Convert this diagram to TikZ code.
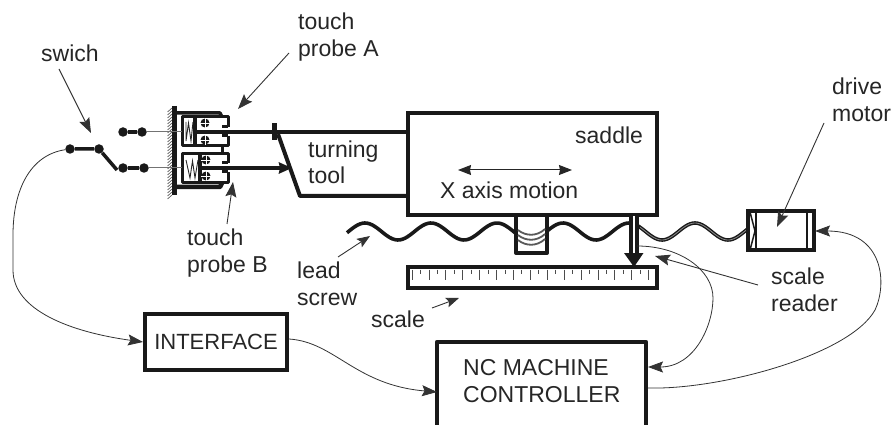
\documentclass[tikz,border=0pt]{standalone}
\usepackage{fontspec}
\setmainfont{Liberation Sans}
\usetikzlibrary{arrows.meta}
\tikzset{
  textlabel/.style={inner sep=0pt,anchor=base west,align=left,text=black!85,font=\fontsize{23}{27}\selectfont},
  thickbox/.style={draw=black!90,line width=4pt,inner sep=0pt},
  thickline/.style={draw=black!90,line width=4pt,line join=round},
  thinwire/.style={draw=black!80,line width=0.8pt},
  callout/.style={draw=black!80,line width=0.9pt,-{Stealth[length=15pt,width=11pt,inset=2.5pt]}},
  terminal/.style={circle,fill=black!90,minimum size=9.5pt,inner sep=0pt},
  ball/.style={circle,fill=black!90,minimum size=9pt,inner sep=0pt},
}
\begin{document}
\begin{tikzpicture}[x=1pt,y=1pt]
    \useasboundingbox (0,0) rectangle (892,-425);
    % lead screw
    \draw [black!90,line width=3.6pt] plot [domain=347:748,samples=160] (\x,{-231.5+8.5*cos(5.4545*(\x-365))});
    \draw [black!45,line width=0.8pt] plot [domain=640:748,samples=60] (\x,{-231.5+8.5*cos(5.4545*(\x-365))});
    % saddle, nut, scale
    \node [thickbox,minimum width=249pt,minimum height=102pt] (saddle) at (532.5,-164) {};
    \fill [white] (516,-217) rectangle (547,-253);
    \draw [thickline] (516,-215) -- (516,-253) -- (547,-253) -- (547,-215);
    \foreach \d in {0,5,10} {
        \draw [black!65,line width=1.8pt] (518,-230-\d) .. controls (526,-236.5-\d) and (537,-236.5-\d) .. (545,-229-\d);
    }
    \node [thickbox,minimum width=249pt,minimum height=21pt] (scale) at (532.5,-277.5) {};
    \foreach \i in {0,...,28} {
        \pgfmathsetmacro{\ticklen}{ifthenelse(mod(\i,2)==0,10,4)}
        \draw [black!70,line width=0.8pt] ({412+\i*8.45},-269.5) -- ++(0,-\ticklen);
    }
    % scale reader
    \fill [white] (632,-216) rectangle (637,-256);
    \draw [black!90,line width=3.5pt] (631,-216) -- (631,-256);
    \draw [black!90,line width=3.5pt] (637,-216) -- (637,-256);
    \fill [black!90] (624,-253) -- (643.5,-253) -- (634,-267) -- cycle;
    % motor
    \node [thickbox,minimum width=66pt,minimum height=39pt] (motor) at (781,-230.5) {};
    \draw [black!90,line width=2pt] (755.5,-212) -- (755.5,-250);
    \draw [black!90,line width=1.5pt] (750,-212) -- (755,-231) -- (750,-250);
    \draw [black!90,line width=2.5pt] (807,-212) -- (807,-250);
    % wall
    \draw [black!90,line width=4.5pt] (174.5,-106) -- (174.5,-195);
    \foreach \y in {108,111,...,195} {
        \draw [black!70,line width=0.6pt] (172,-\y) -- (167.5,-\y-4);
    }
    \draw [thickline,line width=3.5pt] (174,-113) -- (220,-113) -- (222,-117);
    \draw [thickline,line width=4.5pt] (174,-187) -- (220,-187) -- (222,-183);
    % probe A
    \draw [thickline,line width=3pt] (228,-127) -- (228,-117) -- (182,-117) -- (182,-146) -- (228,-146) -- (228,-136);
    \draw [thickline,line width=3pt] (222,-127) -- (228,-127);
    \draw [thickline,line width=3pt] (222,-136) -- (228,-136);
    \draw [thickline] (195,-117) -- (195,-146);
    \draw [thickline,line width=3pt] (222,-146) -- (222,-154);
    \draw [black!85,line width=0.9pt] (186,-122) -- (186,-141) -- (188.5,-123) -- (191,-141) -- (193,-122);
    \node [ball] (ballA1) at (205,-123) {};
    \node [ball] (ballA2) at (205,-140) {};
    % probe B
    \draw [thickline,line width=3pt] (228,-163) -- (228,-154) -- (182,-154) -- (182,-183) -- (228,-183) -- (228,-172);
    \draw [thickline,line width=3pt] (222,-163) -- (228,-163);
    \draw [thickline,line width=3pt] (222,-172) -- (228,-172);
    \draw [thickline] (200,-154) -- (200,-183);
    \draw [black!85,line width=0.9pt] (186,-160) -- (190,-178) -- (192.5,-161) -- (195,-178) -- (198,-160);
    \node [ball] (ballB1) at (206,-160) {};
    \node [ball] (ballB2) at (206,-176) {};
    \foreach \n in {ballA1,ballA2,ballB1,ballB2} {
        \draw [white,line width=0.5pt] (\n.west) -- (\n.east);
        \draw [white,line width=0.5pt] (\n.north) -- (\n.south);
    }
    % rods and tool
    \draw [thickline] (195,-132) -- (408,-132);
    \fill [black!90] (271.5,-123) rectangle (276.5,-140);
    \draw [thickline] (278,-134) -- (300,-196) -- (408,-196);
    \draw [thickline,-{Stealth[length=13pt,width=11pt,inset=1pt]}] (200,-168) -- (292,-168);
    % switch
    \node [terminal] (swA) at (70,-149) {};
    \node [terminal] (swB) at (99,-149) {};
    \node [terminal] (upA) at (123,-132) {};
    \node [terminal] (upB) at (142,-132) {};
    \node [terminal] (loA) at (123,-168) {};
    \node [terminal] (loB) at (144,-168) {};
    \coordinate (blade) at (117,-170);
    \draw [thickline,line width=3.5pt] (swA) -- (swB) -- (blade);
    \draw [thickline,line width=3.5pt] (upA) -- (upB);
    \draw [thickline,line width=3.5pt] (loA) -- (loB);
    \draw [black!55,line width=1pt] (upB) -- (182,-132);
    \draw [black!55,line width=1pt] (loB) -- (182,-168);
    % boxes
    \node [thickbox,minimum width=142pt,minimum height=56pt,font=\fontsize{22}{27}\selectfont,text=black!85] (interface) at (216,-342) {INTERFACE};
    \node [inner sep=0pt,minimum width=209pt,minimum height=83pt] (controller) at (541.5,-383.5) {};
    \draw [thickline] (controller.south west) -- (controller.north west) -- (controller.north east) -- (controller.south east);
    \node [textlabel] (controllertext) at (463,-402) {NC MACHINE\\CONTROLLER};
    % wires
    \coordinate (ctrlin) at (437,-392);
    \coordinate (ctrlread) at (648,-367);
    \coordinate (ctrlout) at (648,-388);
    \coordinate (readerout) at (637,-246);
    \coordinate (motorin) at (815,-231);
    \draw [thinwire,-{Stealth[length=15pt,width=11pt,inset=2.5pt]}] (swA) .. controls (30,-155) and (13,-190) .. (13,-235) -- (13,-270) .. controls (13,-310) and (70,-332) .. (interface.west);
    \draw [thinwire,-{Stealth[length=15pt,width=11pt,inset=2.5pt]}] (interface.east) ++(0,3) .. controls (335,-342) and (355,-385) .. (ctrlin);
    \draw [thinwire,-{Stealth[length=15pt,width=11pt,inset=2.5pt]}] (readerout) .. controls (680,-246) and (713,-270) .. (713,-298) .. controls (713,-325) and (695,-367) .. (ctrlread);
    \draw [thinwire,-{Stealth[length=15pt,width=11pt,inset=2.5pt]}] (ctrlout) .. controls (720,-390) and (850,-355) .. (875,-310) .. controls (887,-285) and (885,-231) .. (motorin);
    % callouts
    \coordinate (swichfrom) at (59,-69);
    \coordinate (swichto) at (91,-133);
    \coordinate (probeAfrom) at (289,-53);
    \coordinate (probeAto) at (238,-109);
    \coordinate (probeBfrom) at (227,-224);
    \coordinate (probeBto) at (233,-182);
    \coordinate (screwfrom) at (338,-257);
    \coordinate (screwto) at (370,-236);
    \coordinate (scalefrom) at (432,-308);
    \coordinate (scaleto) at (459,-298);
    \coordinate (readerfrom) at (758,-285);
    \coordinate (readerto) at (655,-256);
    \coordinate (drivefrom) at (824,-123);
    \coordinate (driveto) at (777,-227);
    \draw [callout] (swichfrom) -- (swichto);
    \draw [callout] (probeAfrom) -- (probeAto);
    \draw [callout] (probeBfrom) -- (probeBto);
    \draw [callout,-{Stealth[length=13pt,width=10pt,inset=2.5pt]}] (screwfrom) -- (screwto);
    \draw [callout,-{Stealth[length=13pt,width=10pt,inset=2.5pt]}] (scalefrom) -- (scaleto);
    \draw [callout] (readerfrom) -- (readerto);
    \draw [callout] (drivefrom) -- (driveto);
    \coordinate (motionL) at (458,-170);
    \coordinate (motionR) at (572,-170);
    \draw [draw=black!85,line width=1pt,{Stealth[length=13pt,width=10pt,inset=1pt]}-{Stealth[length=13pt,width=10pt,inset=1pt]}] (motionL) -- (motionR);
    % labels
    \node [textlabel] (lblswich) at (41,-62) {swich};
    \node [textlabel] (lblprobeA) at (298,-57) {touch\\probe A};
    \node [textlabel] (lblprobeB) at (187,-272) {touch\\probe B};
    \node [textlabel] (lbltool) at (308,-184) {turning\\tool};
    \node [textlabel] (lblsaddle) at (575,-144) {saddle};
    \node [textlabel] (lblmotion) at (440,-198) {X axis motion};
    \node [textlabel] (lblscrew) at (297,-305) {lead\\screw};
    \node [textlabel] (lblscale) at (371,-327) {scale};
    \node [textlabel] (lblreader) at (771,-311) {scale\\reader};
    \node [textlabel] (lblmotor) at (832,-122) {drive\\motor};
\end{tikzpicture}
\end{document}
